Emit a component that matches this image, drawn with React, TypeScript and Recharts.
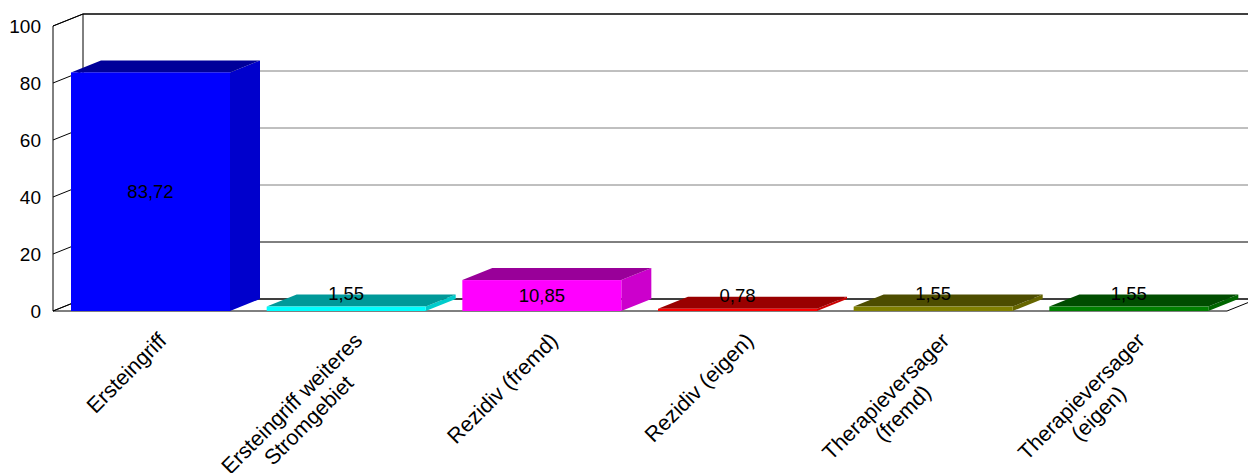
import React from 'react';
import { BarChart, Bar, XAxis, YAxis, CartesianGrid, LabelList } from 'recharts';

const categories = [
  'Ersteingriff',
  'Ersteingriff weiteres Stromgebiet',
  'Rezidiv (fremd)',
  'Rezidiv (eigen)',
  'Therapieversager (fremd)',
  'Therapieversager (eigen)',
];
const tickLabels = [
  ['Ersteingriff'],
  ['Ersteingriff weiteres', 'Stromgebiet'],
  ['Rezidiv (fremd)'],
  ['Rezidiv (eigen)'],
  ['Therapieversager', '(fremd)'],
  ['Therapieversager', '(eigen)'],
];
const values = [83.72, 1.55, 10.85, 0.78, 1.55, 1.55];
const yTicks = [0, 20, 40, 60, 80, 100];

const FRONT = ['#0000FF', '#00FFFF', '#FF00FF', '#FF0000', '#808000', '#008000'];
const TOP = ['#000099', '#009999', '#990099', '#990000', '#4D4D00', '#004D00'];
const SIDE = ['#0000CC', '#00CCCC', '#CC00CC', '#CC0000', '#666600', '#006600'];

const DX = 30;
const DY = 12;
const FONT = '"Liberation Sans", Arial, Helvetica, sans-serif';
const CAT_SIZE = 21.5;

const data = categories.map((name, i) => ({ name, value: values[i], idx: i }));

let ctx: CanvasRenderingContext2D | null = null;
function textWidth(s: string, size: number): number {
  if (!ctx) ctx = document.createElement('canvas').getContext('2d');
  if (!ctx) return s.length * size * 0.5;
  ctx.font = `${size}px "Liberation Sans", Arial, sans-serif`;
  return ctx.measureText(s).width;
}

const Bar3D = (props: any) => {
  const { x, y, width, height, payload, index } = props;
  const i = payload && payload.idx !== undefined ? payload.idx : index;
  const w = width;
  const h = height;
  return (
    <g>
      <polygon
        points={`${x + w},${y} ${x + w + DX},${y - DY} ${x + w + DX},${y + h - DY} ${x + w},${y + h}`}
        fill={SIDE[i]}
      />
      <polygon
        points={`${x},${y} ${x + DX},${y - DY} ${x + w + DX},${y - DY} ${x + w},${y}`}
        fill={TOP[i]}
      />
      <rect x={x} y={y} width={w} height={h} fill={FRONT[i]} />
    </g>
  );
};

const ValueLabel = (props: any) => {
  const { x, y, width, height, value } = props;
  const cx = x + width / 2;
  const cy = height > 22 ? y + height / 2 : y - 13.5;
  return (
    <text x={cx} y={cy} textAnchor="middle" dominantBaseline="central" fontSize={18.5} fontFamily={FONT} fill="#000">
      {Number(value).toFixed(2).replace('.', ',')}
    </text>
  );
};

const CatTick = (props: any) => {
  const { x, y, index } = props;
  const lines = tickLabels[index] || [String(props.payload?.value)];
  const W = Math.max(...lines.map((l) => textWidth(l, CAT_SIZE)));
  const ax = x + 17;
  const ay = y + 31;
  return (
    <g transform={`translate(${ax},${ay}) rotate(-45)`}>
      {lines.map((l, k) => (
        <text key={k} x={-W / 2} y={k * 24} textAnchor="middle" fontSize={CAT_SIZE} fontFamily={FONT} fill="#000">
          {l}
        </text>
      ))}
    </g>
  );
};

const YTick = (props: any) => {
  const { x, y, payload } = props;
  return (
    <text x={x - 12} y={y} textAnchor="end" dominantBaseline="central" fontSize={19} fontFamily={FONT} fill="#000">
      {payload.value}
    </text>
  );
};

const GridLine = (props: any) => {
  const { x, y, width, height, y1, index, horizontalPoints } = props;
  const pts: number[] = (horizontalPoints || []).slice().sort((a: number, b: number) => b - a);
  const rank = pts.indexOf(y1);
  const gray = rank >= 2 && rank <= 4;
  const bottom = y + height;
  return (
    <g key={`gl-${index}`}>
      <line x1={x + DX} y1={y1 - DY} x2={x + width + DX} y2={y1 - DY} stroke={gray ? '#808080' : '#000'} strokeWidth={1} />
      <line x1={x} y1={y1} x2={x + DX} y2={y1 - DY} stroke="#000" strokeWidth={1} />
      {index === 0 && (
        <g>
          <line x1={x + DX} y1={y - DY} x2={x + DX} y2={bottom - DY} stroke="#000" strokeWidth={1} />
          <line x1={x + DX} y1={y - DY} x2={x + width + DX} y2={y - DY} stroke="#000" strokeWidth={1} />
          <line x1={x + DX} y1={bottom - DY} x2={x + width + DX} y2={bottom - DY} stroke="#000" strokeWidth={1} />
          <line x1={x} y1={y} x2={x} y2={bottom} stroke="#000" strokeWidth={1} />
          <line x1={x} y1={y} x2={x + DX} y2={y - DY} stroke="#000" strokeWidth={1} />
          <line x1={x} y1={bottom} x2={x + DX} y2={bottom - DY} stroke="#000" strokeWidth={1} />
          <line x1={x} y1={bottom} x2={x + width} y2={bottom} stroke="#000" strokeWidth={1} />
          <line x1={x + width} y1={bottom} x2={x + width + DX} y2={bottom - DY} stroke="#000" strokeWidth={1} />
        </g>
      )}
    </g>
  );
};

export default function App() {
  return (
    <div style={{ position: 'absolute', left: 0, top: 0, background: '#fff' }}>
      <BarChart
        width={1248}
        height={473}
        data={data}
        margin={{ top: 26, right: 21, bottom: 0, left: 0 }}
        barSize={159}
      >
        <CartesianGrid horizontal={GridLine} vertical={false} />
        <XAxis
          dataKey="name"
          interval={0}
          height={162}
          tickLine={false}
          axisLine={false}
          tickSize={0}
          tickMargin={0}
          tick={CatTick}
        />
        <YAxis
          domain={[0, 100]}
          ticks={yTicks}
          width={53}
          tickLine={false}
          axisLine={false}
          tickSize={0}
          tickMargin={0}
          tick={YTick}
          interval={0}
        />
        <Bar dataKey="value" shape={Bar3D} isAnimationActive={false}>
          <LabelList dataKey="value" content={ValueLabel} />
        </Bar>
      </BarChart>
    </div>
  );
}
